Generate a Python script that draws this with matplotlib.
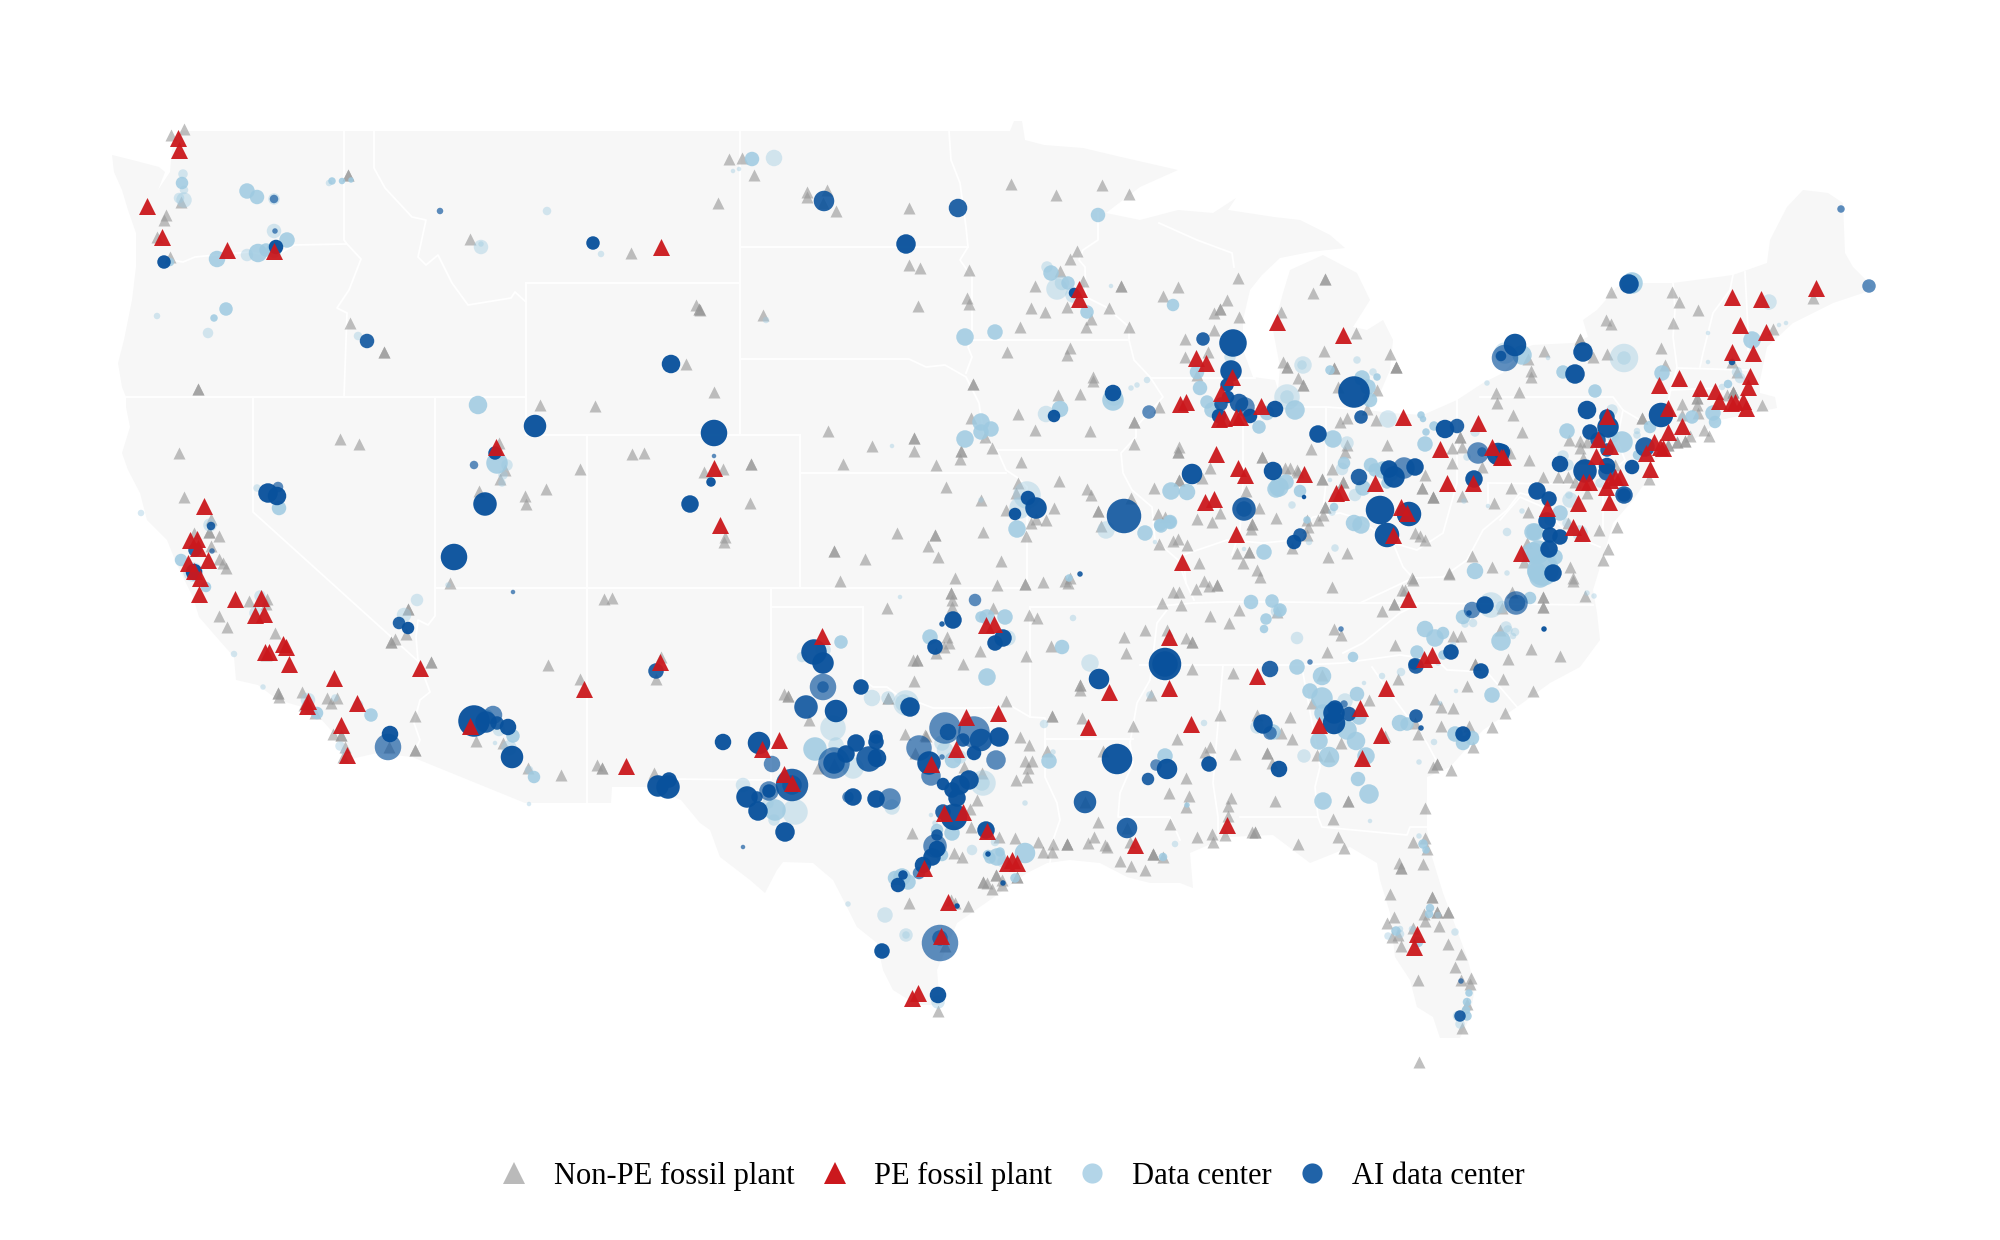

# map of fossil plants and data centers
# all map values are read off the picture, units are map units with origin top left
import matplotlib
matplotlib.use("Agg")
import matplotlib.pyplot as plt
from matplotlib.lines import Line2D
from matplotlib.patches import Polygon
from matplotlib.colors import to_rgba

plt.rcParams['font.family'] = ['Liberation Serif', 'DejaVu Serif']

land = [(112,155),(140,162),(159,167),(165,172),(158,190),(170,172),(172,150),(180,131),(1010,131),(1014,121),(1022,121),(1025,140),
    (1044,145),(1083,148),(1121,157),(1178,170),(1140,187),(1106,213),(1140,220),(1178,210),(1213,213),(1236,198),(1228,210),
    (1274,217),(1300,220),(1330,235),(1345,248),(1310,252),(1280,258),(1262,275),(1250,290),(1243,320),(1243,350),(1253,377),
    (1275,380),(1278,390),(1280,367),(1273,330),(1283,293),(1290,270),(1323,255),(1357,273),(1370,300),(1353,327),(1367,330),
    (1383,320),(1393,340),(1390,370),(1380,393),(1367,410),(1390,413),(1423,415),(1457,400),(1483,383),(1503,373),(1527,347),
    (1533,345),(1573,343),(1588,337),(1583,320),(1597,310),(1617,287),(1643,283),(1673,283),(1733,275),(1767,263),(1770,240),
    (1787,207),(1803,190),(1828,193),(1843,203),(1845,253),(1853,267),(1873,287),(1863,293),(1833,303),(1793,323),(1767,347),
    (1760,380),(1760,393),(1775,397),(1777,408),(1720,420),(1693,440),(1650,463),(1647,480),(1633,500),(1613,523),(1597,577),
    (1593,590),(1597,613),(1600,640),(1580,667),(1550,683),(1517,707),(1483,730),(1450,767),(1427,777),(1427,803),(1427,830),
    (1432,857),(1443,893),(1467,957),(1475,987),(1470,1017),(1460,1038),(1440,1038),(1433,1017),(1417,1007),(1410,980),(1395,957),
    (1390,913),(1380,880),(1377,863),(1350,847),(1310,863),(1273,835),(1227,837),(1190,853),(1193,888),(1180,883),(1150,883),
    (1127,877),(1100,863),(1070,860),(1047,863),(1027,873),(990,900),(957,923),(937,970),(940,1005),(917,1005),(893,990),(883,970),
    (877,943),(857,927),(847,907),(833,880),(813,863),(783,862),(777,870),(765,893),(750,880),(720,857),(710,830),(700,823),(681,800),
    (650,787),(612,787),(611,803),(525,803),(412,757),(377,753),(347,760),(337,737),(313,710),(278,700),(258,685),(236,680),(234,657),
    (219,640),(199,617),(193,597),(183,577),(175,560),(167,540),(147,520),(140,493),(128,470),(122,453),(130,427),(126,407),(126,397),
    (122,387),(118,363),(124,340),(132,300),(136,267),(136,233),(128,210),(122,190),(114,172)]

borders = [
    [(344,131),(344,240),(347,244)],
    [(171,260),(183,262),(195,257),(215,255),(250,252),(274,257),(294,245),(347,244),(361,259),(349,290),(337,308),(347,313),(344,397)],
    [(374,131),(374,168),(385,188),(412,217),(426,220),(418,257),(426,265),(438,255),(452,283),(468,305),(511,298),(515,292),(526,302)],
    [(526,283),(740,283)],[(526,283),(526,435),(800,435)],[(740,131),(740,435)],[(740,247),(968,247)],
    [(740,359),(909,359),(926,367),(945,365),(966,377),(979,403),(981,417),(985,440),(997,450),(1006,470),(1018,478),(1027,487),(1027,587)],
    [(949,131),(951,160),(960,183),(966,227),(968,247),(960,260),(972,277),(972,340),(968,347),(972,357),(966,373)],
    [(972,340),(1129,340)],
    [(1098,213),(1098,240),(1083,250),(1079,260),(1085,267),(1086,297),(1106,307),(1129,327),(1129,340),(1134,360),(1150,377),(1163,397),(1136,427),(1136,437),(1121,453),(1123,473),(1132,490),(1152,507),(1155,540),(1178,560),(1186,583),(1194,600)],
    [(997,450),(1117,450)],[(1150,378),(1255,378)],[(1159,223),(1197,240),(1232,253),(1234,267)],
    [(800,473),(1006,473)],[(800,435),(800,587)],[(435,588),(1027,588)],[(771,588),(771,780)],[(771,607),(863,607)],
    [(670,779),(771,780)],[(587,435),(587,803)],[(122,397),(526,397)],[(435,397),(435,616),(428,625),(418,620),(416,637),(418,660),(430,692),(420,700),(414,723),(420,740),(412,757)],
    [(253,397),(253,512),(420,663)],
    [(863,607),(863,680),(873,687),(887,687),(900,697),(920,703),(933,708),(950,708),(980,708),(1013,707),(1030,717),(1045,718),(1045,777),(1057,803),(1060,820),(1053,840),(1050,863)],
    [(1030,607),(1030,717)],[(1045,739),(1133,739)],[(1030,607),(1163,607),(1167,610),(1157,623),(1150,680),(1137,703),(1130,743),(1133,763),(1120,793),(1118,817),(1170,817),(1177,833),(1180,840)],
    [(1150,607),(1193,603),(1227,602),(1283,602),(1360,603),(1420,603),(1593,605)],
    [(1140,665),(1223,665),(1303,665),(1343,663),(1400,655),(1437,660),(1447,670),(1487,672),(1517,707)],
    [(1223,665),(1213,783),(1218,817),(1218,835)],[(1240,817),(1318,817),(1322,827),(1407,835),(1410,827),(1427,827)],
    [(1303,673),(1320,767),(1315,787),(1318,817)],[(1372,667),(1390,693),(1427,743),(1445,777)],
    [(1343,653),(1363,643),(1400,613),(1420,603)],
    [(1243,407),(1243,483),(1240,530),(1232,555)],[(1326,407),(1326,483),(1323,510)],[(1243,407),(1327,407),(1367,410)],
    [(1186,583),(1183,555),(1227,540),(1263,543),(1293,540),(1313,517),(1340,513),(1357,518),(1393,543),(1403,567),(1413,578),(1360,603)],
    [(1413,578),(1443,577),(1467,560),(1483,530),(1507,510),(1520,493),(1535,497)],
    [(1457,400),(1457,483),(1443,533),(1417,550),(1393,543)],[(1488,483),(1577,484)],[(1488,483),(1488,505)],
    [(1480,397),(1613,397),(1623,410),(1640,420)],[(1623,410),(1617,440),(1625,460),(1600,483)],[(1603,483),(1603,530)],
    [(1673,283),(1675,310),(1673,337),(1677,367),(1670,393),(1667,407)],[(1678,368),(1747,370)],[(1670,390),(1720,388),(1720,415)],
    [(1733,275),(1730,290),(1713,313),(1703,353),(1700,367)],[(1745,272),(1748,330),(1748,350)],
    [(1500,520),(1520,497),(1543,507),(1567,533),(1600,547)],
]

# non-PE fossil plants, a point listed twice is two plants on one site
gray_west = [(184,129),(171,135),(166,215),(164,220),(157,237),(170,257),(181,202),(348,175),(348,175),(350,323),(384,352),(384,352),
    (198,389),(198,389),(470,239),(631,253),(696,305),(699,309),(699,309),(686,364),(540,405),(595,406),(340,439),(359,444),(179,453),
    (184,497),(499,443),(505,470),(500,479),(479,491),(525,496),(546,489),(526,504),(580,469),(632,454),(644,453),(450,583),(211,519),
    (209,532),(209,532),(219,536),(194,533),(211,546),(219,559),(223,563),(226,568),(604,599),(612,598),(249,601),(267,599),(266,604),
    (219,616),(227,627),(275,633),(408,609),(408,609),(406,634),(391,642),(391,642),(395,639),(431,662),(431,662),(548,665),(580,679),
    (661,657),(656,679),(266,655),(278,693),(278,693),(279,697),(302,692),(327,698),(337,698),(331,703),(304,705),(310,708),(315,713),
    (333,734),(341,735),(341,735),(345,747),(343,757),(415,716),(415,750),(415,750),(389,747),(476,741),(503,743),(528,768),(561,775),
    (597,765),(602,768),(602,768),(654,773)]
gray_south = [(887,608),(952,600),(952,607),(993,608),(1029,615),(1037,618),(1162,603),(1181,605),(1124,637),(1145,630),(1167,630),
    (1186,638),(1192,642),(1192,642),(1126,653),(1051,646),(1026,656),(980,651),(963,664),(947,637),(949,643),(944,647),(936,653),
    (913,660),(917,660),(917,660),(914,681),(1006,701),(784,694),(788,696),(788,696),(809,720),(888,698),(888,698),(905,734),(926,736),
    (1080,685),(1080,685),(1080,690),(1151,695),(1192,669),(1052,716),(1052,716),(1082,718),(1133,726),(1177,739),(1020,737),(1029,745),
    (1047,751),(1025,761),(1032,761),(1028,768),(1016,780),(1027,777),(1103,751),(1186,778),(1169,793),(1189,796),(1186,807),(1098,822),
    (1170,824),(1197,837),(1094,837),(1088,843),(1105,845),(1107,847),(1153,854),(1153,854),(1153,854),(1120,861),(1131,866),(1145,870),
    (1163,857),(1130,842),(1038,842),(1053,844),(1067,844),(1067,844),(1067,844),(1043,852),(1052,852),(1015,838),(999,837),(971,827),
    (954,853),(962,857),(912,833),(977,800),(970,809),(996,875),(996,875),(1017,877),(1017,877),(983,882),(983,882),(1002,880),(992,889),
    (987,883),(1002,885),(951,900),(955,903),(968,906),(909,903),(945,946),(938,1011),(982,773),(964,767),(915,753),(834,764),(818,768),
    (925,735),(1085,802),(1127,828)]
gray_north = [(729,159),(742,158),(754,175),(718,203),(807,192),(807,197),(827,190),(836,211),(823,203),(909,208),(1011,184),(1056,195),
    (1102,185),(1129,194),(1077,251),(1070,259),(909,265),(920,268),(969,270),(1035,286),(1083,281),(1060,271),(1121,286),(1121,286),
    (1178,287),(1163,296),(1238,278),(1227,300),(1220,309),(1220,309),(1214,313),(1239,317),(1281,312),(967,298),(969,304),(918,306),
    (1031,308),(1045,312),(1067,307),(1109,308),(1091,319),(1086,327),(1129,327),(1020,327),(763,315),(700,310),(1214,330),(1185,339),
    (1208,352),(1007,352),(1070,348),(1067,355),(1185,357),(1197,375),(973,384),(973,384),(1093,377),(1093,381),(1058,395),(1080,394),
    (714,392),(1018,414),(971,418),(1134,422),(1134,422),(1159,407),(1035,430),(1090,431),(828,431),(914,438),(914,438),(872,446),(914,451),
    (961,451),(961,451),(960,459),(992,448),(985,437),(1134,444),(1179,447),(1178,452),(1178,452),(1021,462),(936,465),(843,464),(751,464),
    (751,464),(723,469),(704,472),(1210,468),(1262,457),(1262,457),(1285,468),(1298,472),(1179,480),(1179,480),(1202,478),(1059,481),
    (1018,483),(946,487),(1154,488),(1087,489),(1091,495),(1016,493),(981,500),(1246,491),(750,503),(1098,511),(1098,511),(1131,498),
    (1054,508),(1006,510),(1259,508),(1220,513),(1197,519),(1212,522),(1158,514),(1165,517),(1276,518),(1252,524),(1252,524),(1251,529),
    (1046,520),(1036,519),(1031,523),(1101,526),(983,532),(1026,536),(897,533),(935,535),(935,535),(725,537),(724,542),(928,546),(834,551),
    (834,551),(938,557),(865,559),(1001,561),(1159,544),(1173,541),(1178,539),(1187,545),(1237,553),(1249,552),(1249,552),(1243,563),
    (1199,563),(1257,570),(1260,577),(840,581),(955,578),(997,585),(1025,584),(1025,584),(1043,582),(1065,581),(1068,583),(1070,578),
    (951,593),(951,593),(1173,592),(1179,592),(1204,581),(1196,589),(1209,586),(1217,585),(1217,585)]
gray_lakes = [(1325,279),(1325,279),(1313,293),(1356,333),(1324,351),(1390,354),(1396,367),(1396,367),(1396,367),(1283,362),(1287,367),(1287,367),
    (1298,378),(1303,385),(1303,385),(1334,368),(1334,368),(1338,387),(1377,390),(1367,409),(1376,420),(1347,418),(1340,422),(1496,393),
    (1497,403),(1460,437),(1460,437),(1462,447),(1452,448),(1387,445),(1452,463),(1482,467),(1425,475),(1422,488),(1422,488),(1433,497),
    (1433,497),(1433,497),(1462,496),(1494,503),(1311,449),(1345,452),(1347,445),(1290,468),(1297,470),(1332,469),(1322,479),(1322,479),
    (1343,482),(1343,482),(1325,507),(1325,507),(1307,520),(1308,527),(1323,515),(1318,520),(1307,535),(1292,548),(1415,533),(1420,536),
    (1425,540),(1328,557),(1347,553),(1472,556),(1492,567),(1449,573),(1412,578)]
gray_east = [(1611,292),(1672,292),(1679,302),(1698,310),(1673,323),(1606,320),(1611,324),(1580,339),(1580,339),(1544,351),(1593,357),
    (1607,354),(1661,348),(1528,359),(1531,371),(1531,377),(1665,365),(1813,298),(1773,329),(1732,362),(1737,372),(1697,398),(1697,398),
    (1697,405),(1733,392),(1733,392),(1733,392),(1727,395),(1762,405),(1682,404),(1698,413),(1682,415),(1519,392),(1513,415),(1642,418),
    (1642,418),(1522,432),(1704,430),(1709,436),(1690,436),(1685,441),(1685,441),(1677,442),(1677,442),(1668,445),(1668,445),(1569,440),
    (1580,441),(1587,442),(1580,448),(1583,458),(1510,453),(1529,460),(1543,477),(1558,477),(1568,477),(1575,482),(1511,488),(1587,493),
    (1615,465),(1649,479),(1528,512),(1568,523),(1599,530),(1617,527),(1608,549),(1603,560),(1527,543),(1524,562),(1570,567),(1573,578)]
gray_southeast = [(1210,616),(1239,610),(1229,623),(1277,612),(1332,587),(1413,580),(1449,574),(1402,590),(1405,590),(1394,604),(1394,604),
    (1382,611),(1512,592),(1543,597),(1543,597),(1543,607),(1543,607),(1573,581),(1585,596),(1502,608),(1334,629),(1341,635),(1453,636),
    (1461,636),(1500,630),(1395,645),(1327,652),(1531,649),(1560,656),(1508,659),(1475,664),(1475,664),(1233,673),(1398,679),(1322,675),
    (1503,679),(1467,686),(1533,691),(1369,700),(1312,703),(1435,699),(1441,707),(1453,708),(1505,713),(1220,715),(1257,715),(1290,717),
    (1441,726),(1469,726),(1492,727),(1415,723),(1418,734),(1385,736),(1281,733),(1292,739),(1341,743),(1473,747),(1210,747),(1205,752),
    (1267,753),(1267,753),(1317,755),(1329,756),(1235,754),(1272,763),(1437,764),(1437,764),(1433,767),(1451,770),(1231,798),(1228,806),
    (1275,801),(1348,801),(1348,801),(1425,808),(1228,816),(1333,819),(1212,834),(1225,835),(1213,842),(1252,832),(1255,832),(1255,832),
    (1298,844),(1338,837),(1344,848),(1413,842),(1425,838),(1427,849)]
gray_florida = [(1399,863),(1401,868),(1401,868),(1423,864),(1390,894),(1432,897),(1432,897),(1394,917),(1424,914),(1437,912),(1437,912),
    (1448,912),(1448,912),(1425,921),(1439,926),(1387,923),(1413,928),(1398,935),(1392,937),(1401,946),(1448,944),(1461,954),(1455,967),
    (1418,980),(1461,980),(1471,978),(1470,984),(1467,1004),(1462,1028),(1419,1062)]

# PE fossil plants
red_west = [(178,138),(179,150),(147,206),(162,237),(227,250),(274,251),(661,247),(496,447),(714,468),(720,525),(204,506),(190,540),(197,539),
    (198,548),(208,560),(188,563),(194,571),(200,578),(199,594),(235,599),(261,598),(255,615),(264,614),(283,644),(286,647),(265,652),
    (269,652),(289,664),(334,678),(357,703),(308,701),(307,706),(341,725),(347,755),(420,668),(470,726),(660,662),(584,689),(626,766)]
red_south = [(822,636),(779,740),(762,749),(784,774),(792,783),(966,717),(998,713),(956,749),(931,764),(944,813),(963,812),(987,831),(924,868),
    (948,902),(941,936),(912,998),(918,993),(986,625),(994,624),(1169,637),(1169,688),(1109,692),(1088,727),(1191,724),(1135,845),(1012,860),
    (1007,863),(1017,863)]
red_north = [(1079,289),(1079,299),(1277,322),(1196,358),(1206,363),(1232,377),(1221,393),(1180,404),(1186,402),(1219,419),(1224,418),(1236,417),
    (1240,417),(1261,406),(1216,454),(1238,468),(1245,475),(1205,502),(1214,499),(1236,534),(1182,562),(1343,335),(1304,474),(1403,417),
    (1478,423),(1440,449),(1492,447),(1501,457),(1375,483),(1447,483),(1473,483),(1336,493),(1341,492),(1401,507),(1407,513),(1393,535),(1521,553)]
red_east = [(1732,297),(1761,299),(1816,288),(1740,325),(1766,332),(1732,352),(1753,353),(1679,378),(1659,385),(1700,388),(1750,376),(1748,387),
    (1715,391),(1719,401),(1731,403),(1735,402),(1743,401),(1746,408),(1668,408),(1607,416),(1682,426),(1668,432),(1654,442),(1660,447),
    (1663,448),(1646,453),(1598,439),(1610,446),(1596,456),(1650,469),(1503,457),(1583,482),(1589,482),(1620,477),(1615,477),(1610,480),
    (1606,487),(1578,503),(1609,502),(1547,508),(1573,527),(1582,533)]
red_southeast = [(1257,676),(1227,825),(1319,725),(1360,708),(1381,735),(1362,758),(1386,688),(1424,659),(1432,655),(1408,599),(1417,934),(1414,947)]

# data centers: x, y, bubble size, plants on the site (1 pale, 2 stronger)
dc_west = [(183,174,8,1),(182,183,11,2),(184,190,7,1),(184,200,14,1),(179,198,9,1),(247,191,14,2),(257,197,13,2),(274,199,10,1),(274,231,13,1),
    (287,240,14,2),(247,255,11,1),(258,253,17,2),(266,250,12,2),(274,250,14,2),(217,259,15,2),(170,262,7,2),(226,309,12,2),(214,318,6,2),
    (157,316,5,1),(208,333,9,1),(332,181,6,2),(329,183,5,1),(342,181,5,2),(351,180,4,2),(358,336,7,1),(547,211,7,1),(481,247,13,1),(481,244,4,1),
    (601,254,5,1),(478,405,17,2),(497,463,20,2),(507,465,10,1),(502,483,6,1),(503,475,8,1),(279,508,13,2),(257,488,6,1),(141,513,5,1),(210,525,12,1),
    (181,560,11,2),(193,572,18,1),(206,587,9,2),(417,600,11,1),(404,615,13,1),(448,585,4,1),(234,654,5,1),(263,687,4,1),(256,613,12,1),(260,596,10,1),
    (308,700,13,1),(317,713,11,2),(335,698,6,1),(358,705,9,1),(371,715,12,2),(340,746,8,1),(344,752,5,1),(495,743,3,1),(513,736,12,2),(509,748,14,1),
    (529,770,7,1),(534,777,11,2),(529,804,3,1),(486,717,14,2),(499,730,11,1)]
dc_south = [(841,642,12,2),(802,657,9,1),(823,650,14,1),(872,698,15,1),(888,698,12,1),(906,703,24,1),(904,703,16,1),(833,728,24,1),(815,749,22,2),
    (836,745,14,1),(853,768,20,1),(775,810,20,2),(795,812,24,1),(743,785,13,1),(774,820,10,1),(768,803,10,1),(892,807,14,1),(930,637,14,2),
    (987,677,16,2),(987,617,14,2),(981,617,10,2),(1005,617,14,2),(1008,638,14,1),(1062,647,13,2),(1044,724,7,1),(1049,761,14,2),(1053,752,4,1),
    (1025,803,4,1),(983,783,24,1),(982,783,14,1),(953,760,15,2),(960,757,12,1),(942,743,14,1),(945,750,15,1),(952,833,14,2),(937,830,11,2),
    (942,855,11,2),(972,850,9,1),(995,842,7,1),(1025,853,19,2),(997,857,16,2),(990,858,10,2),(1000,852,8,2),(988,855,9,2),(1003,862,10,1),
    (1015,878,8,2),(902,877,16,2),(895,878,13,2),(908,882,14,2),(848,904,4,1),(885,915,14,1),(906,935,12,1),(906,935,6,1),(938,1002,12,1),
    (880,947,6,1),(931,815,3,1),(935,823,4,1),(1090,663,16,1),(1073,618,5,1),(1165,756,14,2),(1175,844,5,1),(1163,857,7,2),(1187,805,4,2),(1150,695,6,1)]
dc_north = [(752,159,13,2),(774,158,15,1),(733,171,3,1),(739,169,3,1),(1098,215,13,2),(766,320,5,1),(1047,267,10,1),(1051,273,14,2),(1057,289,20,1),
    (1068,283,12,2),(1062,283,13,1),(1073,295,14,1),(1087,312,12,2),(1111,286,3,1),(1173,305,11,2),(965,337,16,2),(995,332,14,2),(1060,409,15,2),
    (1046,414,15,1),(1113,400,20,2),(1114,397,16,1),(1131,388,4,1),(1137,385,4,1),(1147,380,5,1),(981,422,16,2),(981,432,14,2),(991,429,14,2),
    (965,439,16,2),(892,446,3,1),(1027,495,26,1),(1020,508,20,1),(1017,529,16,2),(1106,530,16,1),(1145,533,14,2),(1161,526,12,2),(1170,522,13,2),
    (1155,542,3,1),(1171,491,16,2),(1187,492,15,2),(1279,487,18,2),(1276,489,16,2),(1286,482,14,2),(1264,552,14,2),(1300,491,11,2),(1244,549,3,1),
    (981,500,4,1),(1069,578,6,2),(900,597,3,1),(1251,602,13,2),(1272,601,12,2),(1280,610,12,2),(1292,505,6,1),(1230,357,10,1),(1197,372,13,2),
    (1200,388,13,2),(1207,402,12,2),(1212,410,14,2),(1259,427,12,2),(1267,413,13,2),(1170,522,11,2),(1160,525,11,2)]
dc_lakes = [(1295,410,18,2),(1287,397,24,1),(1287,397,12,1),(1303,365,16,1),(1302,365,8,1),(1330,370,8,2),(1357,360,6,1),(1362,378,14,2),(1368,387,14,2),
    (1377,377,6,2),(1373,372,6,1),(1370,400,13,2),(1388,419,16,1),(1421,415,6,2),(1423,419,5,2),(1434,426,8,2),(1426,432,6,2),(1425,444,14,2),
    (1475,432,8,1),(1467,457,6,1),(1333,439,16,2),(1347,443,12,1),(1344,463,11,2),(1342,469,11,1),(1371,465,13,2),(1375,470,12,2),(1383,470,16,2),
    (1390,473,16,2),(1363,488,14,2),(1387,483,10,2),(1307,520,6,2),(1309,542,5,1),(1335,548,6,1),(1334,507,7,2),(1332,512,6,1),(1335,497,8,1),
    (1355,495,11,1),(1354,523,15,2),(1361,525,16,2),(1475,571,15,2),(1507,532,7,1),(1507,573,4,1),(1487,383,4,1),(1522,355,18,2),(1505,353,20,1),
    (1548,358,3,1),(1488,506,3,1),(1522,511,4,1),(1464,501,4,1),(1330,480,3,1),(1533,532,16,2),(1538,552,22,2),(1537,572,18,2),(1543,563,26,1)]
dc_east = [(1632,283,20,2),(1624,358,27,1),(1624,358,12,1),(1563,372,12,2),(1595,391,12,2),(1662,373,14,2),(1769,302,14,1),(1752,340,16,2),(1779,325,3,1),
    (1786,323,3,1),(1708,333,3,1),(1708,362,3,1),(1737,372,9,1),(1740,378,9,1),(1728,384,7,2),(1722,387,5,1),(1713,413,14,2),(1715,422,11,2),
    (1692,417,12,2),(1682,417,6,1),(1612,410,10,1),(1567,431,14,2),(1622,442,20,2),(1613,437,10,1),(1637,431,5,1),(1637,435,6,1),(1650,427,11,2),
    (1638,455,9,2),(1563,456,10,1),(1568,465,10,1),(1600,483,8,1),(1570,500,14,1),(1569,495,6,1),(1560,513,14,2),(1567,523,8,1),(1550,520,10,2),
    (1535,532,16,2),(1580,533,14,1),(1533,553,20,2),(1543,570,30,2),(1555,557,14,2)]
dc_southeast = [(1278,611,13,1),(1278,611,7,1),(1266,619,10,2),(1264,629,7,2),(1297,638,11,1),(1353,657,9,2),(1297,667,14,2),(1322,676,17,2),
    (1310,691,14,2),(1322,698,20,2),(1345,701,14,1),(1357,694,13,2),(1323,713,16,2),(1359,717,14,2),(1347,730,18,2),(1356,741,17,2),(1319,741,16,2),
    (1304,756,12,1),(1329,757,19,2),(1366,756,16,2),(1358,779,13,2),(1369,794,18,2),(1323,801,16,2),(1370,821,3,1),(1382,676,5,1),(1364,683,3,1),
    (1401,672,7,1),(1417,652,12,2),(1425,629,15,2),(1435,638,16,2),(1443,633,11,2),(1443,655,8,2),(1438,663,4,1),(1453,645,5,1),(1492,695,14,2),
    (1400,723,15,2),(1407,724,12,2),(1455,734,14,2),(1463,743,13,2),(1472,738,13,2),(1434,742,5,1),(1419,762,4,1),(1456,691,3,1),(1440,703,3,1),
    (1491,605,24,1),(1463,617,13,2),(1465,624,6,1),(1473,623,7,1),(1502,607,11,1),(1530,598,11,2),(1501,641,18,2),(1506,627,10,1),(1508,630,8,1),
    (1515,632,7,1),(1513,636,5,1),(1594,596,4,1),(1587,593,4,1),(1204,723,5,1),(1273,732,14,2),(1257,727,12,1),(1540,577,20,2)]
dc_florida = [(1419,836,4,1),(1423,844,8,2),(1426,850,6,2),(1430,908,7,2),(1429,914,7,2),(1438,915,5,1),(1396,931,8,2),(1400,929,5,1),(1400,934,7,1),
    (1388,936,6,1),(1412,929,5,1),(1418,942,9,2),(1455,932,6,1),(1469,993,6,2),(1467,1002,7,2),(1466,1010,7,2),(1467,1016,8,2),(1460,1024,8,1),(1458,1016,9,1)]

# AI data centers: x, y, bubble size, plants on the site
ai_west = [(274,199,7,1),(275,231,4,1),(276,247,13,3),(164,262,12,3),(367,341,13,2),(440,211,5,1),(593,243,12,3),(671,364,17,3),(714,433,25,3),
    (535,426,21,3),(495,453,12,3),(474,465,7,1),(714,456,3,1),(711,482,8,3),(690,504,16,3),(485,504,22,3),(454,557,25,3),(268,493,18,3),(277,496,17,3),
    (278,487,9,1),(211,526,7,2),(212,551,4,1),(195,550,12,2),(194,572,15,3),(513,592,3,1),(399,623,11,2),(408,628,11,3),(474,721,30,3),(486,722,20,2),
    (493,715,17,1),(497,723,12,2),(508,727,15,3),(512,757,21,3),(390,734,15,3),(388,747,25,1),(656,671,14,2),(658,786,20,3),(669,780,14,3),(668,787,22,3)]
ai_south = [(723,742,15,3),(759,743,21,3),(772,764,15,1),(769,791,18,1),(769,791,12,3),(792,785,31,2),(792,785,18,1),(747,797,20,3),(757,797,10,2),(758,811,18,3),
    (785,832,18,3),(743,847,3,1),(814,652,24,3),(823,663,20,3),(823,687,25,1),(823,687,10,1),(806,707,22,2),(836,711,21,3),(861,687,14,3),(910,707,18,3),
    (834,763,30,1),(834,763,20,2),(846,754,16,3),(856,743,16,3),(848,797,10,1),(853,797,16,3),(876,799,16,3),(890,799,20,1),(869,759,24,2),(877,758,17,3),
    (876,737,12,3),(876,742,14,3),(945,728,30,1),(948,732,15,2),(974,732,30,1),(981,740,21,2),(963,740,12,2),(999,737,18,3),(974,753,13,3),(919,748,24,1),
    (996,760,18,1),(929,763,22,3),(931,776,18,1),(942,757,4,1),(943,784,11,3),(969,780,18,3),(960,785,18,3),(952,790,14,3),(957,798,16,3),(943,812,14,2),
    (954,817,25,3),(986,830,16,3),(937,835,10,2),(935,846,22,1),(937,849,15,3),(932,857,16,3),(923,865,15,3),(919,873,11,1),(903,875,8,3),(898,885,13,3),
    (988,854,4,3),(1003,883,4,2),(957,906,4,3),(940,943,35,1),(940,938,14,1),(882,951,14,3),(938,995,15,3),(953,620,16,3),(942,624,4,2),(935,647,14,3),
    (995,643,14,3),(1003,638,16,3),(1099,679,19,3),(1165,664,31,3),(1165,664,24,2),(1085,802,21,2),(1117,759,29,3),(1148,779,11,2),(1167,769,19,3),(1156,765,10,1),(1127,828,19,2)]
ai_north = [(824,201,19,2),(958,208,17,2),(906,244,18,3),(1074,293,9,3),(1054,416,11,3),(1113,393,15,3),(1149,412,12,1),(1028,498,13,3),(1036,508,20,3),
    (1015,514,11,3),(1124,516,33,2),(975,600,11,1),(1080,574,4,2),(1203,339,12,2),(1233,343,26,3),(1231,371,20,3),(1227,385,12,3),(1228,397,11,3),(1221,404,12,2),
    (1239,403,17,2),(1245,407,18,1),(1219,416,13,3),(1250,416,13,3),(1275,409,15,3),(1192,474,19,3),(1273,471,17,3),(1304,497,3,3),(1244,509,22,2),(1244,509,14,1),
    (1300,535,12,2),(1294,542,13,3)]
ai_lakes = [(1354,392,30,3),(1361,417,12,2),(1318,434,16,3),(1359,477,15,2),(1389,469,16,3),(1394,477,20,3),(1404,468,20,1),(1415,467,16,3),(1380,510,27,3),(1409,514,23,3),
    (1387,535,23,3),(1445,429,17,3),(1457,426,13,2),(1478,453,20,1),(1482,452,8,1),(1498,454,21,3),(1474,479,16,3),(1537,491,16,3),(1505,358,25,1),(1501,356,9,2),(1515,345,21,3)]
ai_east = [(1583,352,18,3),(1629,284,18,3),(1575,374,18,3),(1587,410,17,3),(1607,417,14,3),(1608,427,20,3),(1590,432,14,3),(1598,440,14,2),(1661,415,23,3),
    (1645,447,18,2),(1607,450,12,2),(1560,464,15,3),(1585,471,22,3),(1607,466,15,3),(1607,472,16,2),(1632,467,13,3),(1624,495,16,2),(1624,495,12,2),(1549,499,14,3),
    (1547,521,16,3),(1550,535,14,3),(1560,537,14,3),(1549,549,16,3),(1553,573,16,3),(1502,452,15,3),(1841,209,6,1),(1869,286,12,1),(1732,362,5,2)]
ai_southeast = [(1270,669,15,2),(1310,662,4,1),(1341,629,4,1),(1263,724,18,3),(1270,733,12,1),(1209,764,14,3),(1279,769,15,3),(1334,713,20,3),(1335,708,14,3),
    (1334,723,21,3),(1349,714,13,2),(1344,704,6,1),(1416,666,14,2),(1414,664,10,2),(1451,652,14,3),(1481,671,14,3),(1416,716,12,2),(1421,728,4,2),(1463,734,14,3),
    (1472,610,15,1),(1469,613,4,2),(1485,605,16,3),(1516,603,22,1),(1517,603,15,1),(1544,629,4,3),(1461,981,4,1),(1460,1016,10,2)]

legend_labels = ["Non-PE fossil plant", "PE fossil plant", "Data center", "AI data center"]

gray_all = gray_west + gray_south + gray_north + gray_lakes + gray_east + gray_southeast + gray_florida
red_all = red_west + red_south + red_north + red_east + red_southeast
dc_all = dc_west + dc_south + dc_north + dc_lakes + dc_east + dc_southeast + dc_florida
ai_all = ai_west + ai_south + ai_north + ai_lakes + ai_east + ai_southeast


def bubble_area(size):
    # size is a width in map units, scatter wants points squared
    return (size * 0.72) ** 2


fig = plt.figure(figsize=(20, 12.4), dpi=100)
ax = fig.add_axes([0, 0, 1, 1])
ax.set_xlim(0, 2000)
ax.set_ylim(1240, 0)
ax.axis("off")

ax.add_patch(Polygon(land, closed=True, facecolor="#f7f7f7", edgecolor="none", zorder=1))
for line in borders:
    ax.plot([p[0] for p in line], [p[1] for p in line], color="white", lw=1.3, zorder=2)

ax.scatter([p[0] for p in gray_all], [p[1] for p in gray_all], marker="^", s=bubble_area(12),
           color="#969696", alpha=0.6, linewidths=0, zorder=3)

dc_alpha = {1: 0.42, 2: 0.85}
ax.scatter([p[0] for p in dc_all], [p[1] for p in dc_all], s=[bubble_area(p[2] + 1.5) for p in dc_all],
           c=[to_rgba("#9ecae1", dc_alpha[p[3]]) for p in dc_all], linewidths=0, zorder=4)

ax.scatter([p[0] for p in ai_all], [p[1] for p in ai_all], s=[bubble_area(p[2] + 1.5) for p in ai_all],
           c=[to_rgba("#08519c", 1 - 0.35 ** p[3]) for p in ai_all], linewidths=0, zorder=5)

ax.scatter([p[0] for p in red_all], [p[1] for p in red_all], marker="^", s=bubble_area(17),
           color="#cb181d", alpha=0.95, linewidths=0, zorder=6)

handles = [
    Line2D([], [], marker="^", ls="none", color="#bababa", markeredgewidth=0, markersize=16),
    Line2D([], [], marker="^", ls="none", color="#cb181d", markeredgewidth=0, markersize=16),
    Line2D([], [], marker="o", ls="none", color="#b3d5e8", markeredgewidth=0, markersize=14.5),
    Line2D([], [], marker="o", ls="none", color="#2063a8", markeredgewidth=0, markersize=14.5),
]
fig.legend(handles, legend_labels, loc="center", bbox_to_anchor=(0.502, 0.0513), ncol=4, frameon=False,
           fontsize=22, handletextpad=0.3, columnspacing=0.31)

fig.savefig("out.png", dpi=100)
